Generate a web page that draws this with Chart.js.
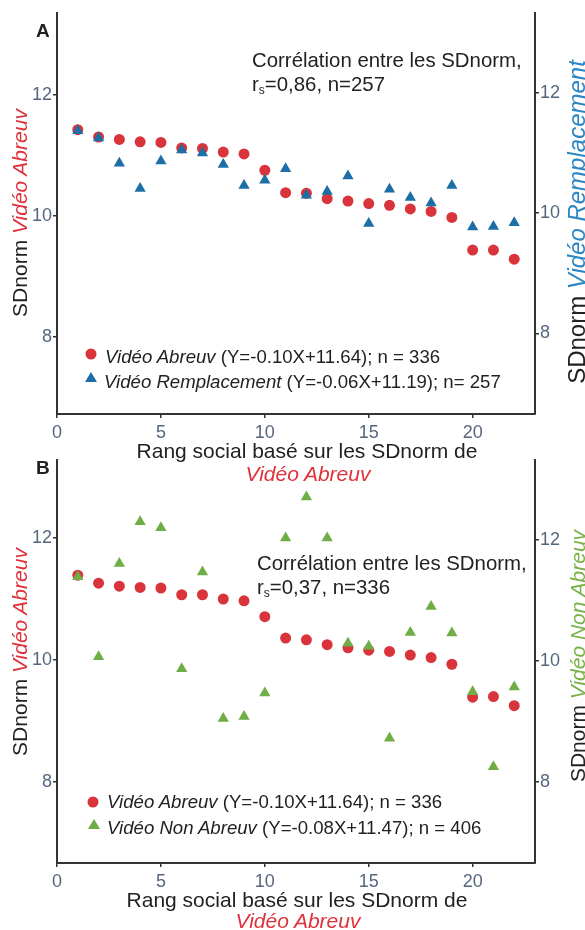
<!DOCTYPE html>
<html>
<head>
<meta charset="utf-8">
<script src="https://cdn.jsdelivr.net/npm/chart.js@4.4.1/dist/chart.umd.min.js"></script>
<style>
body { margin: 0; background: #fff; }
#page { position: relative; width: 585px; height: 930px; overflow: hidden; font-family: "Liberation Sans", Arial, sans-serif; color: #222; }
canvas { position: absolute; left: 0; }
.txt { position: absolute; white-space: nowrap; line-height: 1; transform: translateY(-50%); }
.center { transform: translate(-50%, -50%); }
.vert { position: absolute; white-space: nowrap; line-height: 1; font-size: 21px; transform: translate(-50%, -50%) rotate(-90deg); }
.panel { font-weight: bold; font-size: 19px; }
.note { font-size: 20.4px; }
.xtitle { font-size: 21px; }
.leg { font-size: 18.6px; }
.red { color: #e0313a; font-style: italic; }
.blue { color: #2a86c4; font-style: italic; }
.green { color: #78b145; font-style: italic; }
.dot { position: absolute; width: 11px; height: 11px; border-radius: 50%; transform: translate(-50%, -50%); }
.tri { position: absolute; width: 0; height: 0; border-left: 6px solid transparent; border-right: 6px solid transparent; transform: translate(-50%, -60%); }
sub { font-size: 12px; vertical-align: -3px; }
</style>
</head>
<body>
<div id="page">
  <canvas id="chartA" width="585" height="460" style="top:0px"></canvas>
  <canvas id="chartB" width="585" height="483" style="top:447px"></canvas>

  <div class="txt panel" style="left:36px; top:30px">A</div>
  <div class="txt panel" style="left:36px; top:467px">B</div>

  <div class="txt note" style="left:252px; top:60px">Corrélation entre les SDnorm,</div>
  <div class="txt note" style="left:252px; top:85px">r<sub>s</sub>=0,86, n=257</div>
  <div class="txt note" style="left:257px; top:563px">Corrélation entre les SDnorm,</div>
  <div class="txt note" style="left:257px; top:588px">r<sub>s</sub>=0,37, n=336</div>

  <div class="dot" style="left:91px; top:354px; background:#d9343c"></div>
  <div class="txt leg" style="left:105px; top:357px"><i>Vidéo Abreuv</i> (Y=-0.10X+11.64); n = 336</div>
  <div class="tri" style="left:91px; top:378px; border-bottom:10px solid #1c6ea6"></div>
  <div class="txt leg" style="left:104px; top:382px"><i>Vidéo Remplacement</i> (Y=-0.06X+11.19); n= 257</div>

  <div class="dot" style="left:93px; top:802px; background:#d9343c"></div>
  <div class="txt leg" style="left:107px; top:802px"><i>Vidéo Abreuv</i> (Y=-0.10X+11.64); n = 336</div>
  <div class="tri" style="left:94px; top:825px; border-bottom:10px solid #6fad46"></div>
  <div class="txt leg" style="left:107px; top:828px"><i>Vidéo Non Abreuv</i> (Y=-0.08X+11.47); n = 406</div>

  <div class="txt xtitle center" style="left:307px; top:450px">Rang social basé sur les SDnorm de</div>
  <div class="txt xtitle center red" style="left:308px; top:473px">Vidéo Abreuv</div>
  <div class="txt xtitle center" style="left:297px; top:899px">Rang social basé sur les SDnorm de</div>
  <div class="txt xtitle center red" style="left:298px; top:920px">Vidéo Abreuv</div>

  <div class="vert" style="left:19px; top:213px">SDnorm <span class="red">Vidéo Abreuv</span></div>
  <div class="vert" style="left:577px; top:222px; font-size:24px">SDnorm <span class="blue">Vidéo Remplacement</span></div>
  <div class="vert" style="left:19px; top:652px">SDnorm <span class="red">Vidéo Abreuv</span></div>
  <div class="vert" style="left:577px; top:656px">SDnorm <span class="green">Vidéo Non Abreuv</span></div>
</div>

<script>
// rank 1..22 on the x axis
const ranks = [1, 2, 3, 4, 5, 6, 7, 8, 9, 10, 11, 12, 13, 14, 15, 16, 17, 18, 19, 20, 21, 22];
const xTicks = [0, 5, 10, 15, 20];
const yTicks = [8, 10, 12];

// panel A
const abreuvA = [11.42, 11.30, 11.26, 11.22, 11.21, 11.12, 11.11, 11.05, 11.02, 10.75, 10.38,
                 10.37, 10.28, 10.24, 10.20, 10.17, 10.11, 10.07, 9.97, 9.43, 9.43, 9.28];
const remplacement = [11.37, 11.25, 10.83, 10.41, 10.87, 11.05, 11.00, 10.81, 10.46, 10.55, 10.74,
                      10.30, 10.36, 10.62, 9.83, 10.40, 10.26, 10.17, 10.46, 9.77, 9.78, 9.84];

// panel B
const abreuvB = [11.39, 11.26, 11.21, 11.19, 11.18, 11.07, 11.07, 11.00, 10.97, 10.71, 10.36,
                 10.33, 10.25, 10.20, 10.16, 10.14, 10.08, 10.04, 9.93, 9.39, 9.40, 9.25];
const nonAbreuv = [11.39, 10.07, 11.61, 12.30, 12.20, 9.87, 11.47, 9.05, 9.08, 9.47, 12.03,
                   12.71, 12.03, 10.29, 10.24, 8.72, 10.47, 10.90, 10.46, 9.49, 8.25, 9.57];

const RED = "#d9343c";
const BLUE = "#1c6ea6";
const GREEN = "#6fad46";
const AXIS = "#333333";
const TICK_TEXT = "#56667f";

const toPoints = (values) => ranks.map((r, i) => ({ x: r, y: values[i] }));

const yAxis = (position, min, max) => ({
    type: "linear",
    position: position,
    min: min,
    max: max,
    afterBuildTicks: (scale) => { scale.ticks = yTicks.map(v => ({ value: v })); },
    afterFit: (scale) => { scale.width = position === "left" ? 57 : 50; },
    grid: { drawOnChartArea: false, drawTicks: true, tickLength: 4, color: AXIS, lineWidth: 1.5 },
    border: { display: true, color: AXIS, width: 2 },
    ticks: { color: TICK_TEXT, padding: 1, font: { family: "Liberation Sans", size: 18 } }
});

const buildPanel = (canvasId, leftValues, rightValues, rightColor, leftRange, rightRange, xHeight) => {
    new Chart(document.getElementById(canvasId), {
        type: "scatter",
        data: {
            datasets: [
                {
                    data: toPoints(leftValues),
                    yAxisID: "yL",
                    order: 1,
                    pointStyle: "circle",
                    pointRadius: 5.5,
                    backgroundColor: RED,
                    borderColor: RED,
                    borderWidth: 0
                },
                {
                    data: toPoints(rightValues),
                    yAxisID: "yR",
                    order: 0,
                    pointStyle: "triangle",
                    pointRadius: 6.5,
                    backgroundColor: rightColor,
                    borderColor: rightColor,
                    borderWidth: 0
                }
            ]
        },
        options: {
            responsive: false,
            animation: false,
            layout: { padding: { top: 13, left: 0, right: 0, bottom: 0 } },
            plugins: { legend: { display: false }, tooltip: { enabled: false } },
            scales: {
                x: {
                    type: "linear",
                    min: 0,
                    max: 23,
                    afterBuildTicks: (scale) => { scale.ticks = xTicks.map(v => ({ value: v })); },
                    afterFit: (scale) => { scale.height = xHeight; },
                    grid: { drawOnChartArea: false, drawTicks: true, tickLength: 4, color: AXIS, lineWidth: 1.5 },
                    border: { display: true, color: AXIS, width: 2 },
                    ticks: { color: TICK_TEXT, padding: 4, maxRotation: 0, font: { family: "Liberation Sans", size: 18 } }
                },
                yL: yAxis("left", leftRange[0], leftRange[1]),
                yR: yAxis("right", rightRange[0], rightRange[1])
            }
        }
    });
}

buildPanel("chartA", abreuvA, remplacement, BLUE, [6.72, 13.35], [6.66, 13.33], 46);
buildPanel("chartB", abreuvB, nonAbreuv, GREEN, [6.67, 13.28], [6.66, 13.32], 67);
</script>
</body>
</html>
